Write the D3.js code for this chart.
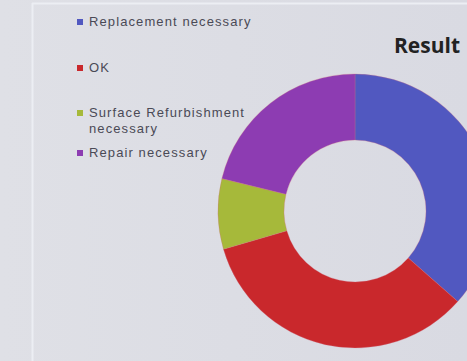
<!DOCTYPE html>
<html><head><meta charset="utf-8">
<script src="https://cdn.jsdelivr.net/npm/d3@7"></script>
<style>
html,body{margin:0;padding:0;background:#dcdde3;overflow:hidden}
</style></head>
<body>
<svg id="c" width="467" height="361"></svg>
<script>
const categories = ["Replacement necessary", "OK", "Surface Refurbishment necessary", "Repair necessary"];
const values = [36.5, 34, 8.3, 21.2];
const colors = ["#5158c0", "#c9282c", "#a6b93a", "#8d3cb2"];
const legendLines = [["Replacement necessary"], ["OK"], ["Surface Refurbishment", "necessary"], ["Repair necessary"]];
const title = "Result";

const svg = d3.select("#c");
const defs = svg.append("defs");
const g0 = defs.append("linearGradient").attr("id","bg").attr("x1",0).attr("x2",1).attr("y1",0).attr("y2",0);
g0.append("stop").attr("offset","0%").attr("stop-color","#dfe0e6");
g0.append("stop").attr("offset","100%").attr("stop-color","#d9dae2");
svg.append("rect").attr("width",467).attr("height",361).attr("fill","url(#bg)");
svg.append("line").attr("x1",32).attr("x2",467).attr("y1",3.5).attr("y2",3.5).attr("stroke","#eceef3").attr("stroke-width",2);
svg.append("line").attr("x1",32.5).attr("x2",32.5).attr("y1",3).attr("y2",361).attr("stroke","#eceef3").attr("stroke-width",2);

const cx = 355, cy = 211, rOut = 137, rIn = 71;
const pie = d3.pie().sort(null).value(d => d)(values);
const arc = d3.arc().innerRadius(rIn).outerRadius(rOut);
svg.append("g").attr("transform",`translate(${cx},${cy})`)
  .selectAll("path").data(pie).join("path")
  .attr("d", arc).attr("fill", (d,i) => colors[i])
  .attr("stroke","#d06a80").attr("stroke-width",0.6).attr("stroke-opacity",0.5);

svg.append("text").attr("x",394).attr("y",53).text(title)
  .attr("font-family","'Open Sans', sans-serif").attr("font-weight","bold")
  .attr("font-size",21).attr("fill","#222");

const rowY = [26, 72, 117, 157];
const leg = svg.append("g").attr("font-family","'Liberation Sans', sans-serif")
  .attr("font-size",13).attr("letter-spacing",1.1).attr("fill","#4a4a56");
legendLines.forEach((lines,i) => {
  leg.append("rect").attr("x",77).attr("y",rowY[i]-7).attr("width",6).attr("height",6).attr("fill",colors[i]);
  lines.forEach((t,j) => {
    leg.append("text").attr("x",89).attr("y",rowY[i]+j*16).text(t);
  });
});
</script>
</body></html>
